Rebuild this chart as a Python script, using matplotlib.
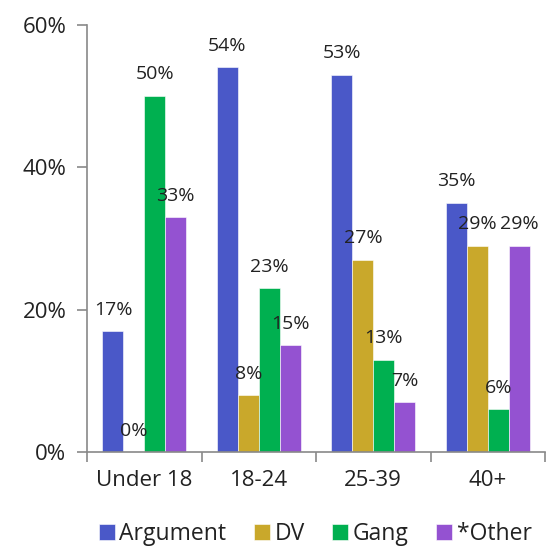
import numpy as np
import matplotlib.pyplot as plt
from matplotlib.ticker import FixedLocator, PercentFormatter

plt.rcParams['font.family'] = ['Open Sans', 'DejaVu Sans']

groups = ["Under 18", "18-24", "25-39", "40+"]
series = ["Argument", "DV", "Gang", "*Other"]
argument = [17, 54, 53, 35]
dv = [0, 8, 27, 29]
gang = [50, 23, 13, 6]
other = [33, 15, 7, 29]
colors = ["#4a58c8", "#c9a82b", "#00b050", "#9452d1"]

fig = plt.figure(figsize=(5.55, 5.5), dpi=100)
ax = fig.add_axes([0.157, 0.178, 0.825, 0.777])

x = np.arange(len(groups))
w = 0.183
for i, (name, vals) in enumerate(zip(series, [argument, dv, gang, other])):
    pos = x + (i - 1.5) * w
    ax.bar(pos, vals, w, color=colors[i], label=name, edgecolor="#ffffff", linewidth=0.4)
    for p, v in zip(pos, vals):
        ax.annotate(f"{v}%", (p, v), xytext=(0, 9), textcoords="offset points",
                    ha="center", va="bottom", fontsize=14, color="#222222")

ax.set_xlim(-0.5, 3.5)
ax.set_ylim(0, 60)
ax.set_yticks([0, 20, 40, 60])
ax.yaxis.set_major_formatter(PercentFormatter(decimals=0))
ax.set_xticks(x)
ax.set_xticklabels(groups)
ax.xaxis.set_minor_locator(FixedLocator([-0.5, 0.5, 1.5, 2.5, 3.5]))
ax.tick_params(axis="x", which="major", length=0, pad=13, labelsize=16, labelcolor="#222222")
ax.tick_params(axis="x", which="minor", length=7, color="#898989", width=1.2)
ax.tick_params(axis="y", length=7, color="#898989", width=1.2, labelsize=16, labelcolor="#222222", pad=8)

for s in ["top", "right"]:
    ax.spines[s].set_visible(False)
for s in ["left", "bottom"]:
    ax.spines[s].set_color("#898989")
    ax.spines[s].set_linewidth(1.2)

fig.legend(loc="lower center", ncol=4, frameon=False, fontsize=16.5,
           handlelength=0.7, handleheight=0.7, handletextpad=0.2,
           columnspacing=1.2, bbox_to_anchor=(0.568, -0.03), labelcolor="#222222")

fig.savefig("out.png", dpi=100)
